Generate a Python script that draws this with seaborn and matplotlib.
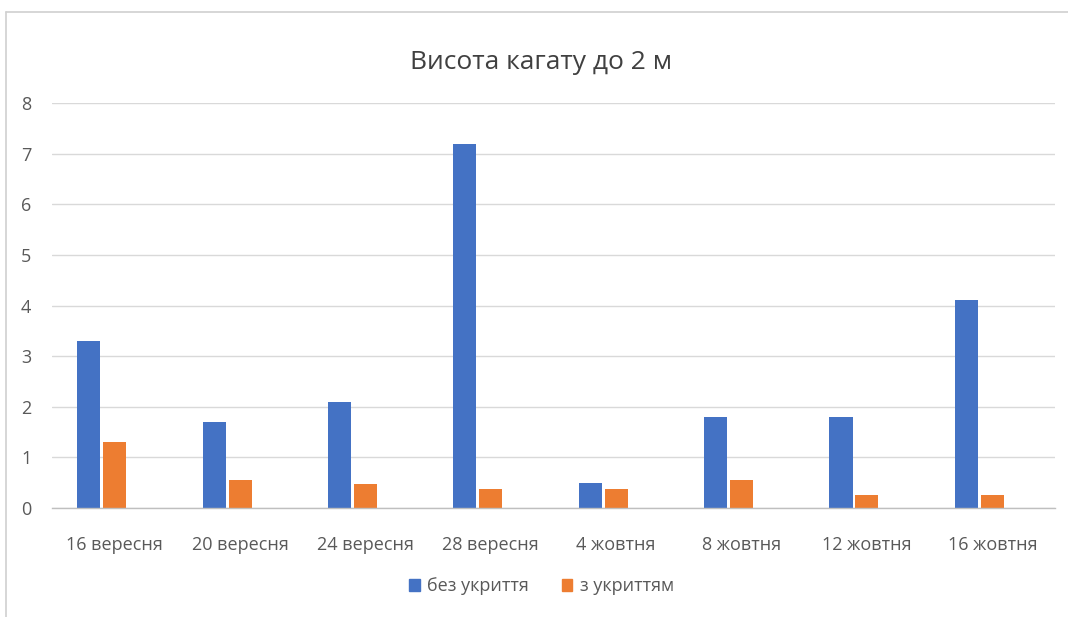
import pandas as pd
import numpy as np
import matplotlib
matplotlib.use("Agg")
import matplotlib.pyplot as plt
import seaborn as sns
from matplotlib.patches import Patch
from matplotlib.lines import Line2D

# ---------------------------------------------------------------------------
# DATA
# ---------------------------------------------------------------------------
dates = ["16 вересня", "20 вересня", "24 вересня", "28 вересня",
         "4 жовтня", "8 жовтня", "12 жовтня", "16 жовтня"]
no_cover = [3.3, 1.7, 2.1, 7.2, 0.5, 1.8, 1.8, 4.1]
with_cover = [1.3, 0.56, 0.48, 0.38, 0.38, 0.56, 0.26, 0.26]
# Excel chart has a third (empty) series that keeps its slot in each group
empty_series = [0, 0, 0, 0, 0, 0, 0, 0]

series_names = ["без укриття", "з укриттям", "_empty"]
palette = {"без укриття": "#4472C4", "з укриттям": "#ED7D31", "_empty": "#FFFFFF"}

df = pd.DataFrame({
    "date": dates * 3,
    "value": no_cover + with_cover + empty_series,
    "series": np.repeat(series_names, len(dates)),
})

# ---------------------------------------------------------------------------
# STYLE
# ---------------------------------------------------------------------------
sns.set_style("white")
plt.rcParams['font.family'] = ['Open Sans', 'DejaVu Sans']
text_color = "#595959"

fig = plt.figure(figsize=(10.68, 6.17), dpi=100)
ax = fig.add_axes([0.0487, 0.1767, 0.9391, 0.6563])

sns.barplot(data=df, x="date", y="value", hue="series", order=dates,
            hue_order=series_names, palette=palette, saturation=1,
            width=0.62, gap=0.11, linewidth=0, errorbar=None,
            legend=False, ax=ax)

ax.set_ylim(0, 8)
ax.set_yticks(range(0, 9))
ax.set_xlim(-0.5, len(dates) - 0.5)
ax.yaxis.grid(True, color="#D9D9D9", linewidth=1)
ax.set_axisbelow(True)
for side in ["top", "right", "left"]:
    ax.spines[side].set_visible(False)
ax.spines["bottom"].set_color("#BFBFBF")
ax.spines["bottom"].set_linewidth(1)
ax.tick_params(axis="both", length=0, labelsize=13, colors=text_color)
ax.tick_params(axis="x", pad=20)
ax.tick_params(axis="y", pad=15)
ax.set_xlabel("")
ax.set_ylabel("")

fig.text(0.507, 0.898, "Висота кагату до 2 м", ha="center", va="center",
         fontsize=19, color="#404040")

handles = [Patch(color=palette["без укриття"], label="без укриття"),
           Patch(color=palette["з укриттям"], label="з укриттям")]
fig.legend(handles=handles, loc="center", bbox_to_anchor=(0.507, 0.05),
           ncol=2, frameon=False, fontsize=13, handlelength=0.6,
           handleheight=0.6, handletextpad=0.4, columnspacing=1.8,
           labelcolor=text_color)

# chart border (only the left and top edges fall inside the crop)
fig.add_artist(Line2D([0.0056, 0.0056], [0.0, 0.9805], transform=fig.transFigure,
                      color="#D0D0D0", linewidth=1.2))
fig.add_artist(Line2D([0.0056, 1.0], [0.9805, 0.9805], transform=fig.transFigure,
                      color="#D0D0D0", linewidth=1.2))

plt.savefig("out.png", dpi=100)
plt.close()
